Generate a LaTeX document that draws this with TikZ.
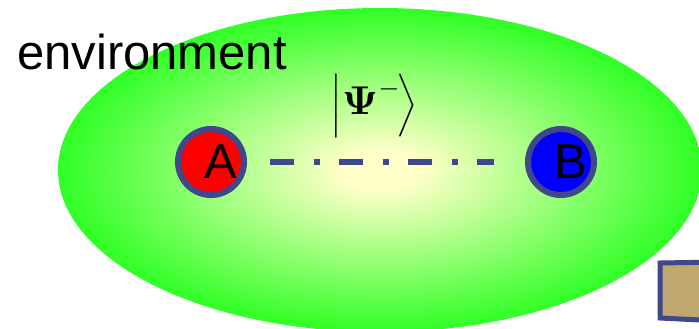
\documentclass[tikz,border=0pt]{standalone}
\usepackage{amsmath}
\usepackage[no-math]{fontspec}
\setmainfont{Liberation Sans}
\usetikzlibrary{positioning,shapes.geometric}

\definecolor{rimblue}{RGB}{64,72,140}
\definecolor{boxtan}{RGB}{190,168,112}
\definecolor{envgreen}{RGB}{0,255,0}
\definecolor{envcentre}{RGB}{255,255,200}

\pgfdeclareradialshading{envglow}{\pgfpoint{0bp}{0bp}}{%
  color(0bp)=(envcentre); color(3bp)=(envcentre); color(30bp)=(envgreen);
  color(50bp)=(envgreen)}

\tikzset{
  qubit/.style={circle, draw=rimblue, line width=6pt, minimum size=66pt,
    inner sep=0pt, font=\fontsize{49}{50}\selectfont},
  pairline/.style={draw=rimblue, line width=6pt,
    dash pattern=on 24pt off 20pt on 6pt off 19pt},
}

\begin{document}
\begin{tikzpicture}
  \begin{scope}[x=1pt, y=-1pt]
    \useasboundingbox (0,0) rectangle (699,329);

    % Environment
    \node[ellipse, shading=envglow, minimum width=644pt, minimum height=324pt,
      inner sep=0pt] (env) at (380,170) {};
    \node[anchor=base west, font=\fontsize{49}{50}\selectfont, inner sep=0pt]
      (envlabel) at (17,70) {environment};

    % Detector box at the corner
    \draw[rimblue, line width=5pt, fill=boxtan]
      (660,263) -- (720,262) -- (720,321) -- (660,318) -- cycle;

    % The pair
    \node[qubit, fill=red] (A) at (211,162) {\raisebox{-3pt}{\hspace*{20pt}A}};
    \node[qubit, fill=blue] (B) at (561,162) {\raisebox{-3pt}{\hspace*{20pt}B}};
    \draw[pairline, shorten <=23pt, shorten >=31pt] (A.east) -- (B.west);

    % Entangled state
    \node[inner sep=0pt] (ket) at (374,105)
      {\scalebox{3.5}{$\left|\rule[-6pt]{0pt}{18pt}
        \mbox{\scalebox{1.15}{$\mathbf{\Psi}$}}^{-}\!\right\rangle$}};
  \end{scope}
\end{tikzpicture}
\end{document}
